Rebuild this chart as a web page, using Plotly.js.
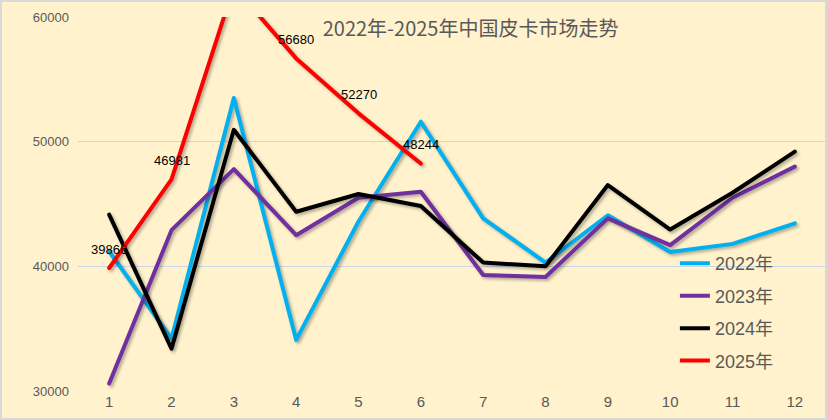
<!DOCTYPE html>
<html>
<head>
<meta charset="utf-8">
<script src="https://cdn.plot.ly/plotly-3.0.1.min.js"></script>
<style>
  html, body { margin: 0; padding: 0; background: #FFF2CC; }
  #wrap { position: relative; width: 827px; height: 420px; }
  #chart { width: 827px; height: 420px; }
  #frame { position: absolute; left: 0; top: 0; width: 827px; height: 420px; box-sizing: border-box; border: 2px solid #D9D9D9; pointer-events: none; }
  .scatterlayer .js-line { filter: drop-shadow(2px 2px 1.5px rgba(0,0,0,0.3)); stroke-linejoin: round; stroke-linecap: round; }
</style>
</head>
<body>
<div id="wrap"><div id="chart"></div><div id="frame"></div></div>
<script>
const months = [1, 2, 3, 4, 5, 6, 7, 8, 9, 10, 11, 12];
const seriesNames = ["2022年", "2023年", "2024年", "2025年"];
const sales2022 = [41200, 34200, 53500, 34100, 43600, 51600, 43850, 40300, 44100, 41150, 41800, 43450];
const sales2023 = [30600, 42900, 47800, 42500, 45500, 45980, 39300, 39150, 43850, 41700, 45500, 48000];
const sales2024 = [44150, 33400, 50950, 44380, 45800, 44840, 40300, 40000, 46520, 42950, 45900, 49200];
const sales2025 = [39866, 46981, 62440, 56680, 52270, 48244];
const seriesColors = ["#00B0F0", "#7030A0", "#000000", "#FF0000"];
const yTicks = [30000, 40000, 50000, 60000];
const yRange = [30000, 60000];
const titleText = "2022年-2025年中国皮卡市场走势";

const allSeries = [sales2022, sales2023, sales2024, sales2025];
const traces = allSeries.map((vals, i) => ({
  type: "scatter",
  mode: "lines",
  name: seriesNames[i],
  legendgroup: "g" + i,
  x: months.slice(0, vals.length),
  y: vals,
  line: { color: seriesColors[i], width: 4 },
  hoverinfo: "x+y+name"
}));

// data labels for the 2025 series (only those inside the visible range)
const annotations = sales2025
  .map((v, i) => ({ v, m: months[i] }))
  .filter(d => d.v <= yRange[1])
  .map(d => ({
    x: d.m, y: d.v, xref: "x", yref: "y",
    text: String(d.v), showarrow: false,
    yshift: 19, yanchor: "middle", xanchor: "center",
    font: { family: "Liberation Sans, Arial, sans-serif", size: 13, color: "#000000" }
  }));

const layout = {
  width: 827, height: 420,
  margin: { l: 78, r: 1, t: 17, b: 29.3 },
  paper_bgcolor: "#FFF2CC",
  plot_bgcolor: "#FFF2CC",
  title: {
    text: titleText,
    xref: "container", yref: "container",
    x: 0.569, y: 0.931, xanchor: "center", yanchor: "middle",
    font: { family: "Noto Sans CJK SC, Liberation Sans, sans-serif", size: 20, color: "#595959" }
  },
  xaxis: {
    range: [0.5, 12.5],
    tickvals: months,
    ticktext: months.map(String),
    showgrid: false, zeroline: false, showline: false, ticks: "",
    tickfont: { family: "Liberation Sans, Arial, sans-serif", size: 15, color: "#595959" },
    fixedrange: true
  },
  yaxis: {
    range: yRange,
    tickvals: yTicks,
    ticktext: yTicks.map(String),
    showgrid: true, gridcolor: "#CFD5E6", gridwidth: 1,
    zeroline: false, showline: false, ticks: "",
    ticklabelstandoff: 8,
    tickfont: { family: "Liberation Sans, Arial, sans-serif", size: 13, color: "#595959" },
    fixedrange: true
  },
  showlegend: true,
  legend: {
    x: 0.798, y: 0.39, xanchor: "left", yanchor: "top",
    bgcolor: "rgba(0,0,0,0)",
    tracegroupgap: 6,
    font: { family: "Liberation Sans, Noto Sans CJK SC, sans-serif", size: 18, color: "#595959" }
  },
  annotations: annotations
};

Plotly.newPlot("chart", traces, layout, { displayModeBar: false, staticPlot: true });
</script>
</body>
</html>
